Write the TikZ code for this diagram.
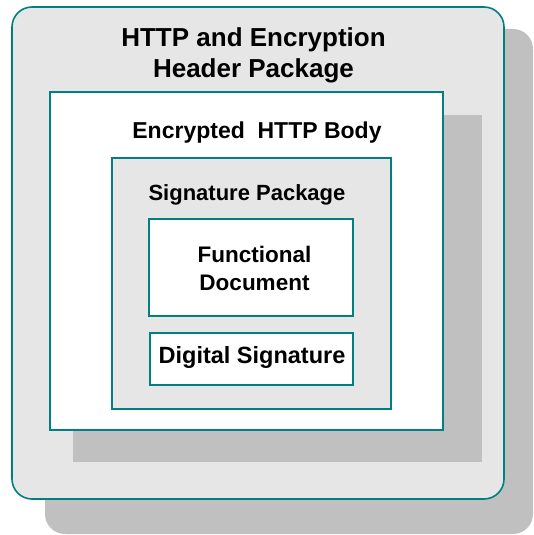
\documentclass[tikz,border=0pt]{standalone}
\usepackage{fontspec}
\setmainfont{Liberation Sans}
\usetikzlibrary{positioning}

\definecolor{boxline}{HTML}{008080}
\definecolor{boxgray}{HTML}{E6E6E6}
\definecolor{shadowgray}{HTML}{C0C0C0}

\begin{document}
\begin{tikzpicture}[x=1pt,y=-1pt,
    box/.style={rectangle,draw=boxline,line width=1.6pt,inner sep=0pt},
    shadow box/.style={rectangle,fill=shadowgray,draw=none,inner sep=0pt},
    big label/.style={font=\bfseries\fontsize{26}{31}\selectfont,align=center},
    small label/.style={font=\bfseries\fontsize{22.5}{28}\selectfont,align=center}]

  \useasboundingbox (0,0) rectangle (533,535);

  % shadows
  \node[shadow box,rounded corners=20pt,minimum width=488pt,minimum height=505pt] (outshadow) at (289,281.5) {};
  % outer package
  \node[box,fill=boxgray,rounded corners=20pt,minimum width=492pt,minimum height=492pt] (http) at (258,253) {};
  \node[shadow box,minimum width=409pt,minimum height=347pt] (bodyshadow) at (277.5,288.5) {};
  % encrypted body
  \node[box,fill=white,minimum width=393pt,minimum height=338pt] (body) at (246.5,261) {};
  \node[box,fill=boxgray,minimum width=279pt,minimum height=251pt] (sig) at (251.5,283.5) {};
  \node[box,fill=white,minimum width=204pt,minimum height=97pt] (func) at (251,267.5) {};
  \node[box,fill=white,minimum width=203pt,minimum height=52pt] (digsig) at (251.5,359) {};

  % labels
  \node[big label] (httplabel) at (253.5,55.5) {HTTP and Encryption\\Header Package};
  \node[small label,font=\bfseries\fontsize{23}{28}\selectfont,anchor=base] (bodylabel) at (257,138) {Encrypted~ HTTP Body};
  \node[small label,font=\bfseries\fontsize{22}{28}\selectfont,anchor=base] (siglabel) at (247,200) {Signature Package};
  \node[small label] (funclabel) at (254.5,268) {Functional\\Document};
  \node[small label,font=\bfseries\fontsize{23.5}{28}\selectfont,anchor=base] (digsiglabel) at (252,363) {Digital Signature};

\end{tikzpicture}
\end{document}
